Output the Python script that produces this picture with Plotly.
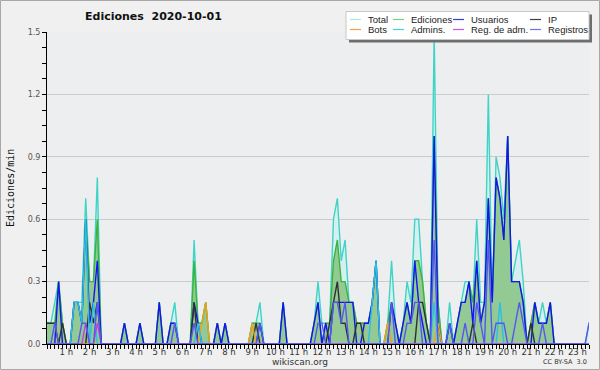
import pandas as pd
import plotly.graph_objects as go

# 10-minute bins of 2020-10-01
times = pd.date_range("2020-10-01 00:00", periods=144, freq="10min")

total = [
    .1, .1, .1, .2, .3, .1, 0, 0, .2, .2, .2, .7,
    .3, .3, .8, 0, 0, 0, 0, 0, 0, .1, 0, 0,
    0, .1, 0, 0, 0, 0, .2, 0, 0, .1, .2, 0,
    0, 0, 0, .5, .1, .1, .2, 0, 0, .1, 0, .1,
    0, 0, 0, 0, 0, 0, .1, .1, .2, 0, 0, 0,
    0, 0, .2, 0, 0, 0, 0, 0, 0, 0, .1, .3,
    .1, .1, .1, .6, .7, .4, .5, .2, .2, .1, .1, .1,
    .1, .2, .4, 0, 0, .1, .4, .1, 0, .1, .3, .2,
    .6, .6, .3, .1, 0, 1.5, .2, 0, 0, .2, 0, .1,
    .2, .3, .3, .2, .6, .2, .2, 1.2, .2, .9, .8, .6,
    1.0, .3, .4, .5, .3, 0, .1, .2, .1, .2, .1, .2,
    0, 0, 0, 0, 0, 0, 0, 0, 0, .1, .1, 0,
]
ediciones = [
    .1, .1, .1, .1, .3, .1, 0, 0, .2, .2, .1, .6,
    .3, .3, .6, 0, 0, 0, 0, 0, 0, .1, 0, 0,
    0, .1, 0, 0, 0, 0, .2, 0, 0, .1, .1, 0,
    0, 0, 0, .4, .1, .1, .2, 0, 0, .1, 0, .1,
    0, 0, 0, 0, 0, 0, .1, .1, .1, 0, 0, 0,
    0, 0, .2, 0, 0, 0, 0, 0, 0, 0, .1, .2,
    0, .1, .1, .4, .5, .3, .3, .2, .2, .1, .1, .1,
    .1, .2, .4, 0, 0, .1, .2, .1, 0, .1, .2, .1,
    .4, .4, .3, .1, 0, 1.0, .2, 0, 0, .1, 0, .1,
    .2, .2, .3, .2, .4, .1, .2, .7, .2, .8, .7, .5,
    1.0, .3, .3, .3, .2, 0, .1, .2, .1, .1, .1, .2,
    0, 0, 0, 0, 0, 0, 0, 0, 0, 0, 0, 0,
]
usuarios = [
    0, 0, 0, 0, .3, 0, 0, 0, .2, .2, .1, .6,
    .1, .2, .4, 0, 0, 0, 0, 0, 0, .1, 0, 0,
    0, .1, 0, 0, 0, 0, .2, 0, 0, .1, .1, 0,
    0, 0, 0, .2, .1, 0, 0, 0, 0, .1, 0, .1,
    0, 0, 0, 0, 0, 0, 0, 0, .1, 0, 0, 0,
    0, 0, .2, 0, 0, 0, 0, 0, 0, 0, .1, .2,
    0, .1, 0, .2, .2, .2, .2, .2, .2, 0, 0, .1,
    .1, .2, .4, 0, 0, 0, .2, .1, 0, .1, .2, .1,
    .4, .2, .1, 0, 0, 1.0, .1, 0, 0, .1, 0, .1,
    .2, .2, .3, .1, .4, .1, .2, .7, .2, .8, .7, .5,
    1.0, .3, .3, .3, .2, 0, 0, .2, .1, .1, .1, .2,
    0, 0, 0, 0, 0, 0, 0, 0, 0, 0, 0, 0,
]
ip = [
    .1, .1, .1, .1, 0, .1, 0, 0, 0, 0, 0, 0,
    .2, .1, .2, 0, 0, 0, 0, 0, 0, 0, 0, 0,
    0, 0, 0, 0, 0, 0, 0, 0, 0, 0, 0, 0,
    0, 0, 0, .2, 0, 0, 0, 0, 0, 0, 0, 0,
    0, 0, 0, 0, 0, 0, 0, .1, 0, 0, 0, 0,
    0, 0, 0, 0, 0, 0, 0, 0, 0, 0, 0, 0,
    0, 0, .1, .2, .3, .1, .1, 0, 0, .1, .1, 0,
    0, 0, 0, 0, 0, 0, 0, 0, 0, 0, 0, 0,
    0, .2, .2, .1, 0, 0, 0, 0, 0, 0, 0, 0,
    0, 0, 0, .1, 0, 0, 0, 0, 0, 0, 0, 0,
    0, 0, 0, 0, 0, 0, .1, 0, 0, 0, 0, 0,
    0, 0, 0, 0, 0, 0, 0, 0, 0, 0, 0, 0,
]
bots = [
    0, 0, 0, 0, 0, 0, 0, 0, 0, 0, 0, 0,
    0, 0, 0, 0, 0, 0, 0, 0, 0, 0, 0, 0,
    0, 0, 0, 0, 0, 0, 0, 0, 0, 0, 0, 0,
    0, 0, 0, 0, 0, .1, .2, 0, 0, 0, 0, 0,
    0, 0, 0, 0, 0, 0, .1, 0, 0, 0, 0, 0,
    0, 0, 0, 0, 0, 0, 0, 0, 0, 0, 0, 0,
    0, 0, 0, 0, 0, 0, 0, 0, 0, 0, 0, 0,
    0, 0, 0, 0, 0, .1, 0, 0, 0, 0, 0, 0,
    0, 0, 0, 0, 0, 0, .1, 0, 0, 0, 0, 0,
    0, 0, 0, 0, 0, 0, 0, 0, 0, 0, 0, 0,
    0, 0, 0, 0, 0, 0, 0, 0, 0, 0, 0, 0,
    0, 0, 0, 0, 0, 0, 0, 0, 0, 0, 0, 0,
]
admins = [
    0, 0, 0, 0, 0, 0, 0, 0, .2, .2, .1, .6,
    0, .2, 0, 0, 0, 0, 0, 0, 0, 0, 0, 0,
    0, 0, 0, 0, 0, 0, 0, 0, 0, 0, 0, 0,
    0, 0, 0, 0, .1, 0, 0, 0, 0, 0, 0, 0,
    0, 0, 0, 0, 0, 0, 0, 0, 0, 0, 0, 0,
    0, 0, 0, 0, 0, 0, 0, 0, 0, 0, 0, 0,
    0, 0, 0, 0, 0, 0, 0, 0, 0, 0, 0, 0,
    0, .2, .4, 0, 0, 0, 0, 0, 0, 0, 0, 0,
    0, 0, 0, 0, 0, .2, 0, 0, 0, 0, 0, 0,
    0, 0, 0, 0, 0, 0, 0, 0, 0, 0, .2, 0,
    0, 0, 0, 0, 0, 0, 0, 0, 0, 0, 0, 0,
    0, 0, 0, 0, 0, 0, 0, 0, 0, 0, 0, 0,
]
reg_adm = [
    0, 0, 0, 0, 0, 0, 0, 0, 0, 0, 0, .1,
    0, 0, .1, 0, 0, 0, 0, 0, 0, 0, 0, 0,
] + [0] * 120
registros = [
    0, 0, 0, .1, 0, 0, 0, 0, 0, 0, .1, .1,
    0, 0, .2, 0, 0, 0, 0, 0, 0, 0, 0, 0,
    0, 0, 0, 0, 0, 0, 0, 0, 0, 0, .1, 0,
    0, 0, 0, .1, 0, 0, 0, 0, 0, 0, 0, 0,
    0, 0, 0, 0, 0, 0, 0, 0, .1, 0, 0, 0,
    0, 0, 0, 0, 0, 0, 0, 0, 0, 0, 0, .1,
    .1, 0, 0, .2, .2, .1, .2, 0, 0, 0, 0, 0,
    0, 0, 0, 0, 0, 0, .2, 0, 0, 0, .1, .1,
    .2, .2, 0, 0, 0, .5, 0, 0, 0, .1, 0, 0,
    0, .1, 0, 0, .2, .1, 0, .5, 0, .1, .1, .1,
    0, 0, .1, .2, .1, 0, 0, 0, 0, .1, 0, 0,
    0, 0, 0, 0, 0, 0, 0, 0, 0, .1, .1, 0,
]

series_names = ["Total", "Ediciones", "Usuarios", "IP",
                "Bots", "Admins.", "Reg. de adm.", "Registros"]
series_values = [total, ediciones, usuarios, ip, bots, admins, reg_adm, registros]
line_colors = ["#3fd4c6", "#3cb43c", "#1414f0", "#303030",
               "#f0a020", "#2cc0e4", "#c040e0", "#5656f2"]
legend_colors = ["#aee6e6", "#7fd07f", "#3a3ad8", "#404040",
                 "#f0a040", "#40d0e0", "#d050e0", "#7070f0"]
fill_colors = {"Total": "#d6eff0", "Ediciones": "#93c993"}

y_ticks = [0.0, 0.3, 0.6, 0.9, 1.2, 1.5]

fig = go.Figure()
for name, vals, col in zip(series_names, series_values, line_colors):
    fc = fill_colors.get(name)
    fig.add_trace(go.Scatter(
        x=times, y=vals, mode="lines", name=name,
        line=dict(color=col, width=1.4),
        fill="tozeroy" if fc else None,
        fillcolor=fc,
        showlegend=False,
    ))

W, H = 600, 370
L, R, T, B = 47, 11, 32, 26
PW, PH = W - L - R, H - T - B


def px(x):
    return (x - L) / PW


def py(y):
    return (H - B - y) / PH


shapes = []
annotations = []

# figure border
shapes.append(dict(type="rect", xref="paper", yref="paper",
                   x0=px(0.5), x1=px(W - 0.5), y0=py(0.5), y1=py(H - 0.5),
                   line=dict(color="#a8a8a8", width=1), fillcolor="rgba(0,0,0,0)",
                   layer="below"))

# legend box with shadow
lx0, lx1, ly0, ly1 = 346, 589, 11.5, 39.5
shapes.append(dict(type="rect", xref="paper", yref="paper",
                   x0=px(lx0 + 3), x1=px(lx1 + 3), y0=py(ly0 + 3), y1=py(ly1 + 3),
                   line=dict(width=0), fillcolor="#6e6e6e"))
shapes.append(dict(type="rect", xref="paper", yref="paper",
                   x0=px(lx0), x1=px(lx1), y0=py(ly0), y1=py(ly1),
                   line=dict(color="#c8c8c8", width=1), fillcolor="#ffffff"))
col_x = [350, 393, 453, 530]
row_y = [19.5, 29.5]
for k, (name, col) in enumerate(zip(series_names, legend_colors)):
    r, c = divmod(k, 4)
    x0 = col_x[c]
    yy = row_y[r]
    shapes.append(dict(type="line", xref="paper", yref="paper",
                       x0=px(x0), x1=px(x0 + 11), y0=py(yy), y1=py(yy),
                       line=dict(color=col, width=1.2)))
    annotations.append(dict(xref="paper", yref="paper", x=px(x0 + 16), y=py(yy),
                            text=name, showarrow=False, xanchor="left", yanchor="middle",
                            font=dict(family="Liberation Sans", size=9.5, color="#222222")))

# title
annotations.append(dict(xref="paper", yref="paper", x=px(153), y=py(16.5),
                        text="<b>Ediciones\u00a0 2020-10-01</b>", showarrow=False,
                        xanchor="center", yanchor="middle",
                        font=dict(family="DejaVu Sans", size=11, color="#111111"),
                        ))
# y axis title
annotations.append(dict(xref="paper", yref="paper", x=px(10), y=py(188),
                        text="Ediciones/min", showarrow=False, textangle=-90,
                        xanchor="center", yanchor="middle",
                        font=dict(family="DejaVu Sans Mono", size=10, color="#111111")))
# footer
annotations.append(dict(xref="paper", yref="paper", x=px(300), y=py(361.5),
                        text="wikiscan.org", showarrow=False,
                        xanchor="center", yanchor="middle",
                        font=dict(family="DejaVu Sans", size=9, color="#333333")))
annotations.append(dict(xref="paper", yref="paper", x=px(589), y=py(362),
                        text="CC BY-SA  3.0", showarrow=False,
                        xanchor="right", yanchor="middle",
                        font=dict(family="DejaVu Sans", size=6.5, color="#333333")))

fig.update_layout(
    width=W, height=H,
    margin=dict(l=L, r=R, t=T, b=B, pad=0),
    paper_bgcolor="#f0f0f0",
    plot_bgcolor="#edeef0",
    showlegend=False,
    shapes=shapes,
    annotations=annotations,
    xaxis=dict(
        range=["2020-10-01 00:10", "2020-10-01 23:30"],
        tickformat="%-H h", dtick=3600000, tick0="2020-10-01 00:00",
        ticks="outside", ticklen=4, tickwidth=1, tickcolor="#000000",
        minor=dict(dtick=600000, ticks="outside", ticklen=4, tickcolor="#000000", showgrid=False),
        showline=True, linecolor="#000000", linewidth=1,
        showgrid=False, zeroline=False,
        tickfont=dict(family="DejaVu Sans", size=8.5, color="#333333"),
        ticklabelstandoff=-4,
        fixedrange=True,
    ),
    yaxis=dict(
        range=[0, 1.5], tickvals=y_ticks, tickformat=".1f",
        ticks="outside", ticklen=4, tickwidth=1, tickcolor="#000000",
        minor=dict(dtick=0.075, ticks="outside", ticklen=4, tickcolor="#000000", showgrid=False),
        showline=True, linecolor="#000000", linewidth=1,
        showgrid=True, gridcolor="#cbcbcb", gridwidth=1, zeroline=False,
        tickfont=dict(family="DejaVu Sans", size=8, color="#555555"),
        fixedrange=True,
    ),
)

fig.write_html("out.html", config={"displayModeBar": False},
               post_script="document.body.style.margin='0';document.body.style.padding='0';")
